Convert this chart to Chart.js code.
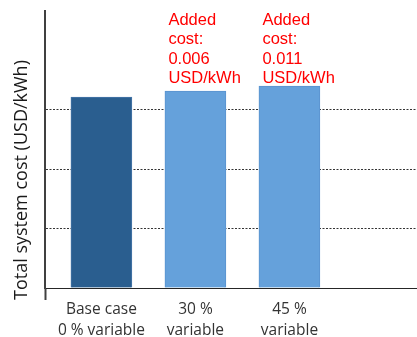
<!DOCTYPE html>
<html>
<head>
<meta charset="utf-8">
<script src="https://cdn.jsdelivr.net/npm/chart.js@4"></script>
<style>
  html, body { margin: 0; padding: 0; background: #ffffff; }
  canvas { display: block; }
</style>
</head>
<body>
<canvas id="chart" width="417" height="337"></canvas>
<script>
// Scenario categories (two-line axis labels)
const categories = [['Base case', '0 % variable'], ['30 %', 'variable'], ['45 %', 'variable']];
// Total cost of the base case and the extra cost of each variable-share scenario (USD/kWh)
const baseCost = 0.193;
const addedCost = [0, 0.006, 0.011];
// Dotted reference lines on the cost axis
const gridValues = [0.06, 0.12, 0.18];

const barColors = ['#2A5E8F', '#65A1DB', '#65A1DB'];
const barEdges = ['#4676A8', '#5A93CF', '#5A93CF'];

const totalCost = addedCost.map(a => +(baseCost + a).toFixed(3));

// Rotated axis title on the left
const yTitle = {
  id: 'yTitle',
  afterDraw(chart) {
    const { ctx, chartArea } = chart;
    ctx.save();
    ctx.translate(22, chartArea.bottom - 108);
    ctx.rotate(-Math.PI / 2);
    ctx.font = '18px "Open Sans"';
    ctx.fillStyle = '#1a1a1a';
    ctx.textAlign = 'center';
    ctx.textBaseline = 'middle';
    ctx.fillText('Total system cost (USD/kWh)', 0, 0);
    ctx.restore();
  }
};

// Red notes above the scenario bars giving the added cost
const costNotes = {
  id: 'costNotes',
  afterDatasetsDraw(chart) {
    const meta = chart.getDatasetMeta(0);
    const { ctx, chartArea } = chart;
    ctx.save();
    ctx.font = '16.5px "Liberation Sans", Arial, sans-serif';
    ctx.fillStyle = '#FF0000';
    ctx.textAlign = 'left';
    ctx.textBaseline = 'alphabetic';
    addedCost.forEach((a, i) => {
      if (!a) return;
      const bar = meta.data[i];
      const lines = ['Added', 'cost:', a.toFixed(3), 'USD/kWh'];
      lines.forEach((t, k) => ctx.fillText(t, bar.x - 27, chartArea.top + 14 + k * 19.4));
    });
    ctx.restore();
  }
};

new Chart(document.getElementById('chart'), {
  type: 'bar',
  data: {
    datasets: [{
      data: totalCost.map((v, i) => ({ x: i, y: v })),
      backgroundColor: barColors,
      borderColor: barEdges,
      borderWidth: 1,
      barThickness: 61
    }]
  },
  options: {
    responsive: false,
    animation: false,
    devicePixelRatio: 1,
    layout: { padding: { top: 11, right: 0, left: 0, bottom: 0 } },
    plugins: { legend: { display: false }, tooltip: { enabled: false } },
    scales: {
      x: {
        type: 'linear',
        offset: false,
        min: -0.6,
        max: 3.357,
        afterBuildTicks(scale) {
          scale.ticks = [-0.6, 0, 1, 2].map(v => ({ value: v }));
        },
        afterFit(scale) { scale.height = 49; },
        ticks: {
          autoSkip: false,
          maxRotation: 0,
          padding: 0,
          color: '#333333',
          font: { family: '"Open Sans"', size: 15.5, lineHeight: 1.3 },
          callback: (v) => Number.isInteger(v) ? categories[v] : ''
        },
        grid: {
          offset: false,
          drawOnChartArea: false,
          tickLength: 12,
          tickWidth: 2,
          tickColor: (c) => c.index === 0 ? '#404040' : 'rgba(0,0,0,0)'
        },
        border: { color: '#262626', width: 1 }
      },
      y: {
        min: 0,
        max: 0.28,
        afterBuildTicks(scale) {
          scale.ticks = [0, ...gridValues].map(v => ({ value: v }));
        },
        afterFit(scale) { scale.width = 45; },
        ticks: { display: false },
        grid: {
          color: (c) => c.tick && c.tick.value > 0 ? '#333333' : 'rgba(0,0,0,0)',
          lineWidth: 1,
          drawTicks: false
        },
        border: { color: '#404040', width: 2, dash: [2, 1.5] }
      }
    }
  },
  plugins: [yTitle, costNotes]
});
</script>
</body>
</html>
